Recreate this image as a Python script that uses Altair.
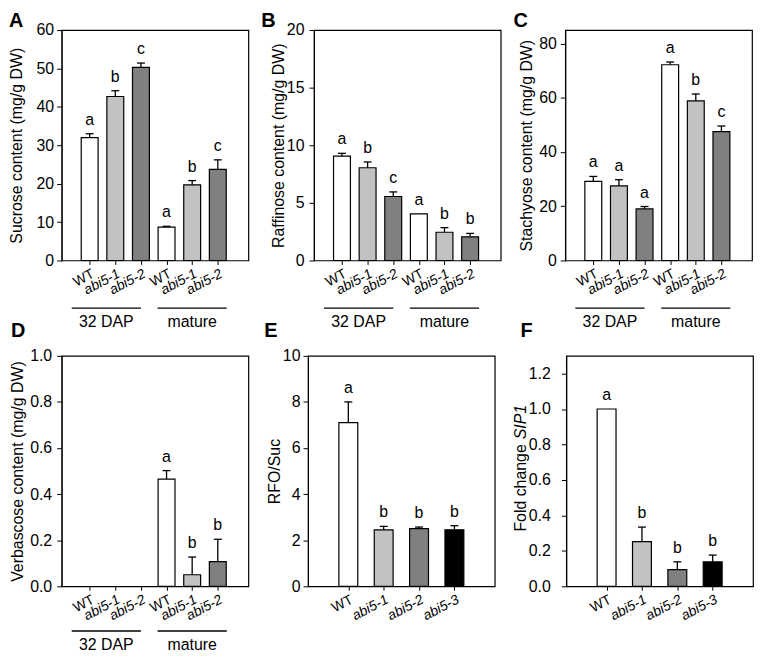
import altair as alt
import pandas as pd

FONT = "Liberation Sans"

# ---------------- data ----------------
six_labels = ["WT", "abi5-1", "abi5-2", "WT", "abi5-1", "abi5-2"]
four_labels = ["WT", "abi5-1", "abi5-2", "abi5-3"]

sucrose = [32.0, 42.7, 50.3, 8.7, 19.7, 23.7]
sucrose_err = [1.0, 1.5, 1.1, 0.2, 1.1, 2.5]
sucrose_sig = ["a", "b", "c", "a", "b", "c"]

raffinose = [9.05, 8.05, 5.55, 4.05, 2.45, 2.05]
raffinose_err = [0.25, 0.5, 0.4, 0.0, 0.4, 0.3]
raffinose_sig = ["a", "b", "c", "a", "b", "b"]

stachyose = [29.2, 27.5, 19.0, 72.2, 58.9, 47.5]
stachyose_err = [1.8, 2.3, 0.9, 1.0, 2.5, 2.1]
stachyose_sig = ["a", "a", "a", "a", "b", "c"]

verbascose = [0.0, 0.0, 0.0, 0.465, 0.05, 0.107]
verbascose_err = [0.0, 0.0, 0.0, 0.037, 0.077, 0.097]
verbascose_sig = ["", "", "", "a", "b", "b"]

rfo_suc = [7.1, 2.45, 2.5, 2.45]
rfo_suc_err = [0.9, 0.15, 0.07, 0.18]
rfo_suc_sig = ["a", "b", "b", "b"]

sip1 = [1.0, 0.252, 0.094, 0.138]
sip1_err = [0.0, 0.082, 0.044, 0.038]
sip1_sig = ["a", "b", "b", "b"]

stages = ["32 DAP", "mature"]
stage_from = [0.3, 3.65]   # bracket extent, in bar-index units
stage_to = [3.0, 6.35]

shade_domain = ["WT", "abi5-1", "abi5-2", "abi5-3"]
shade_range = ["#ffffff", "#c2c2c2", "#808080", "#000000"]

W = 188
H1 = 232
H2 = 232


def panel(labels, values, errs, sigs, ytitle, ydomain, yticks, yfmt,
          xdomain, bar_w, height, ext, lpad, tpad,
          stage_line=None, stage_text=None, letters=()):
    n = len(labels)
    df = pd.DataFrame({"pos": list(range(1, n + 1)), "label": labels,
                       "value": values, "err": errs, "sig": sigs})
    df["top"] = df["value"] + df["err"]
    base = alt.Chart(df)
    names = ",".join("'%s'" % l for l in labels)
    wt_test = " || ".join("datum.value == %d" % (i + 1)
                          for i, l in enumerate(labels) if l == "WT")
    xaxis = alt.Axis(values=list(range(1, n + 1)),
                     labelExpr="[%s][datum.value - 1]" % names,
                     labelAngle=-28, labelFontSize=14, labelOverlap=False,
                     labelFontStyle={"condition": {"test": wt_test, "value": "normal"},
                                     "value": "italic"},
                     tickSize=4, labelPadding=2, title=None, grid=False,
                     domain=False, labelColor="black", tickColor="black")
    yargs = dict(values=yticks, tickSize=5, labelPadding=lpad, labelFontSize=16,
                 labelOverlap=False,
                 titleFontSize=16, titleFontWeight="normal", titlePadding=tpad,
                 minExtent=ext, maxExtent=ext, grid=False, domainColor="black",
                 tickColor="black", labelColor="black", titleColor="black",
                 title=ytitle if ytitle else None)
    if yfmt:
        yargs["format"] = yfmt
    yaxis = alt.Axis(**yargs)
    xs = alt.Scale(domain=xdomain, nice=False, zero=False)
    ys = alt.Scale(domain=ydomain, nice=False)

    def X(f):
        return alt.X(f, scale=xs, axis=xaxis)

    def Y(f):
        return alt.Y(f, scale=ys, axis=yaxis)

    bars = base.transform_filter("datum.value > 0").mark_bar(
        size=bar_w, stroke="black", strokeWidth=1.2).encode(
        x=X("pos:Q"), y=Y("value:Q"),
        fill=alt.Fill("label:N", scale=alt.Scale(domain=shade_domain, range=shade_range),
                      legend=None))
    whisk = base.transform_filter("datum.err > 0").mark_rule(
        color="black", strokeWidth=1.3).encode(
        x=X("pos:Q"), y=Y("value:Q"), y2="top:Q")
    cap = base.transform_filter("datum.err > 0").mark_rule(
        color="black", strokeWidth=1.3, xOffset=-4, x2Offset=4).encode(
        x=X("pos:Q"), x2="pos:Q", y=Y("top:Q"))
    sig = base.mark_text(fontSize=16, dy=-9, baseline="alphabetic", color="black").encode(
        x=X("pos:Q"), y=Y("top:Q"), text="sig:N")
    layers = [bars, whisk, cap, sig]
    if stage_line is not None:
        sdf = pd.DataFrame({"stage": stages, "x0": stage_from, "x1": stage_to})
        sdf["mid"] = (sdf["x0"] + sdf["x1"]) / 2
        sb = alt.Chart(sdf)
        layers.append(sb.mark_rule(color="black", strokeWidth=1.3).encode(
            x=X("x0:Q"), x2="x1:Q", y=alt.value(height + stage_line)))
        layers.append(sb.mark_text(fontSize=16, baseline="middle", color="black").encode(
            x=X("mid:Q"), y=alt.value(height + stage_text), text="stage:N"))
    for (t, lx, ly) in letters:
        layers.append(alt.Chart(pd.DataFrame({"t": [t]})).mark_text(
            fontSize=20, fontWeight="bold", align="left", baseline="alphabetic",
            color="black").encode(x=alt.value(lx), y=alt.value(ly), text="t:N"))
    return alt.layer(*layers).properties(width=W, height=height)


A = panel(six_labels, sucrose, sucrose_err, sucrose_sig, "Sucrose content (mg/g DW)",
          [0, 60], [0, 10, 20, 30, 40, 50, 60], None, [0.1, 7.0], 17, H1, 26, 3, 11,
          stage_line=48, stage_text=62,
          letters=[("A", -53, -3), ("D", -51, H1 + 77)])
B = panel(six_labels, raffinose, raffinose_err, raffinose_sig, "Raffinose content (mg/g DW)",
          [0, 20], [0, 5, 10, 15, 20], None, [0.1, 7.0], 17, H1, 28, 5, 0,
          stage_line=48, stage_text=62,
          letters=[("B", -53, -3), ("E", -50, H1 + 77)])
C = panel(six_labels, stachyose, stachyose_err, stachyose_sig, "Stachyose content (mg/g DW)",
          [0, 85], [0, 20, 40, 60, 80], None, [0.1, 7.0], 17, H1, 27, 4, 4,
          stage_line=48, stage_text=62,
          letters=[("C", -52, -3), ("F", -45, H1 + 77)])
D = panel(six_labels, verbascose, verbascose_err, verbascose_sig, "Verbascose content (mg/g DW)",
          [0, 1.0], [0, 0.2, 0.4, 0.6, 0.8, 1.0], ".1f", [0.1, 7.0], 17, H2, 32, 5, 4,
          stage_line=45, stage_text=59)
E = panel(four_labels, rfo_suc, rfo_suc_err, rfo_suc_sig, "RFO/Suc",
          [0, 10], [0, 2, 4, 6, 8, 10], None, [0, 5], 19, H2, 26, 3, 0)
F_bars = panel(four_labels, sip1, sip1_err, sip1_sig, None,
               [0, 1.3], [0, 0.2, 0.4, 0.6, 0.8, 1.0, 1.2], ".1f", [0, 5], 19, H2, 38, 11, 0)
f_title = pd.DataFrame({"t": ["Fold change"], "g": ["SIP1"]})
F_t1 = alt.Chart(f_title).mark_text(fontSize=16, angle=270, align="right",
                                     baseline="middle", color="black").encode(
    x=alt.value(-46), y=alt.value(H2 / 2 - 27), text="t:N")
F_t2 = alt.Chart(f_title).mark_text(fontSize=16, angle=270, align="left", fontStyle="italic",
                                     baseline="middle", color="black").encode(
    x=alt.value(-46), y=alt.value(H2 / 2 - 32), text="g:N")
F = alt.layer(F_bars, F_t1, F_t2)

row1 = alt.hconcat(A, B, C, spacing=11)
row2 = alt.hconcat(D, E, F, spacing=16)

chart = alt.vconcat(row1, row2, spacing=5).properties(padding=0).configure(
    font=FONT).configure_axis(labelOverlap=False).configure_view(
    stroke="black", strokeWidth=1.2)

chart.save("out.html", embed_options={"renderer": "svg", "actions": False})
